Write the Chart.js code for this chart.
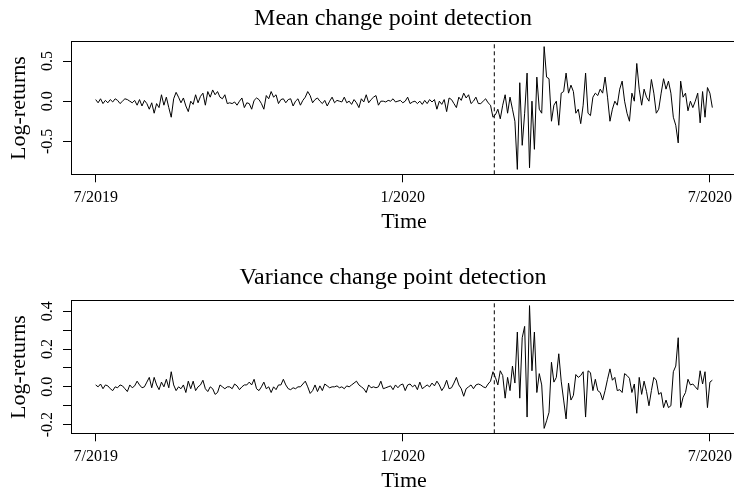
<!DOCTYPE html>
<html>
<head>
<meta charset="utf-8">
<script src="https://cdn.jsdelivr.net/npm/chart.js@4"></script>
<style>
  html, body { margin: 0; padding: 0; background: #fff; }
  body { width: 734px; height: 493px; overflow: hidden; position: relative; }
  canvas { position: absolute; left: 0; }
  #c-mean { top: 0; }
  #c-var { top: 259px; }
</style>
</head>
<body>
<canvas id="c-mean" width="786" height="259"></canvas>
<canvas id="c-var" width="786" height="259"></canvas>
<script>

// daily (trading day) series, 252 obs per year, starting 7/2019
let startYear = 2019.5;
let obsPerYear = 252;
let changePointTime = 2020.149;

let xTickValues = [2019.5, 2020.0, 2020.5];
let xTickLabels = ["7/2019", "1/2020", "7/2020"];

let meanTitle = "Mean change point detection";
let meanTicks = [-0.5, 0.0, 0.5];
let meanTickLabels = ["-0.5", "0.0", "0.5"];
let meanReturns = [
	0.02, -0.02, 0.03, -0.03, 0.01, -0.02, 0.02, -0.01, 0.03, 0.01,
	-0.03, 0.00, 0.03, 0.02, 0.00, -0.02, 0.01, -0.05, 0.02, -0.06,
	0.01, -0.03, -0.10, -0.02, -0.15, -0.03, -0.08, 0.08, -0.05, 0.05,
	-0.08, -0.20, 0.03, 0.11, 0.05, -0.02, 0.04, -0.06, -0.13, 0.00,
	-0.04, 0.08, -0.02, 0.06, 0.10, -0.05, 0.12, 0.05, 0.14, 0.08,
	0.12, 0.05, 0.03, 0.08, -0.03, -0.02, -0.03, -0.01, -0.05, 0.00,
	0.04, -0.08, -0.02, -0.03, -0.10, 0.01, 0.04, 0.02, -0.03, -0.10,
	0.07, 0.03, 0.12, 0.05, 0.08, -0.03,
	0.02, 0.03, -0.02, 0.02, 0.03, -0.06, 0.00, 0.03, -0.05, 0.01,
	0.05, 0.12, 0.07, -0.02, 0.02, 0.04, 0.00, -0.03, 0.01, -0.06,
	0.00, 0.05, -0.02, 0.01, 0.00, -0.01, 0.05, -0.02, 0.00, -0.04,
	0.02, -0.02, -0.08, 0.03, -0.01, 0.08, -0.02, 0.02, 0.05, 0.07,
	-0.05, 0.00, 0.00, -0.01, 0.01, 0.00, 0.03, -0.01, 0.00, 0.01,
	-0.02, 0.00, 0.05, -0.03, -0.01, 0.00, -0.03, 0.00, -0.04, 0.01,
	-0.03, 0.02, -0.01, 0.02, -0.10, 0.00, -0.04, 0.02, -0.13, 0.04,
	0.02, -0.03, -0.08, 0.05, 0.01, 0.10, 0.04, 0.08, -0.03, 0.00,
	0.05, -0.03,
	-0.03, 0.00, 0.03, -0.02, -0.05,
	-0.20, -0.17, -0.10, -0.22, -0.05, 0.08, -0.15, 0.05, -0.10, -0.25,
	-0.85, 0.23, -0.55, -0.15, 0.35, -0.83, 0.00, -0.60, 0.30, -0.10,
	-0.15, 0.68, 0.30, 0.28, -0.25, -0.05, 0.00, -0.30, 0.10, 0.12,
	0.35, 0.10, 0.20, 0.12, -0.15, -0.10, -0.28, -0.05, 0.35, -0.15,
	-0.18, 0.05, 0.10, 0.07, 0.15, 0.10, 0.30, 0.05, -0.25, -0.10,
	0.00, -0.05, 0.15, 0.25, 0.00, -0.15, -0.25, 0.10, 0.00, 0.47,
	0.15, -0.05, 0.15, 0.05, 0.00, 0.27, 0.10, -0.15, -0.10, 0.10,
	0.28, 0.15, 0.25, 0.10, -0.20, -0.30, -0.52, 0.25, 0.05, 0.10,
	-0.12, 0.00, -0.08, 0.00, 0.10, -0.27, 0.12, -0.20, 0.17, 0.10,
	-0.08
];

let varTitle = "Variance change point detection";
let varTicks = [-0.2, -0.1, 0.0, 0.1, 0.2, 0.3, 0.4];
let varTickLabels = ["-0.2", "", "0.0", "", "0.2", "", "0.4"];
let varReturns = [
	0.01, 0.00, 0.015, -0.01, 0.01, 0.005, -0.01, -0.02, 0.00, -0.005,
	0.01, 0.005, -0.01, -0.025, 0.01, -0.005, 0.005, 0.03, 0.01, -0.005,
	0.00, 0.025, 0.05, -0.005, 0.05, 0.01, -0.015, 0.025, 0.00, 0.04,
	-0.005, 0.08, 0.01, -0.02, 0.00, -0.01, 0.01, -0.03, 0.03, -0.01,
	0.03, -0.02, 0.00, 0.01, 0.035, -0.01, -0.025, 0.00, -0.01, -0.04,
	-0.03, 0.01, 0.00, -0.01, 0.00, 0.00, -0.01, 0.015, 0.005, -0.015,
	0.00, 0.01, 0.01, 0.025, 0.01, 0.04, -0.01, -0.02, 0.00, 0.025,
	-0.01, 0.00, -0.03, 0.00, -0.015, 0.01,
	0.01, 0.04, 0.01, -0.01, -0.015, -0.005, -0.01, 0.00, 0.00, 0.015,
	0.03, 0.00, -0.035, -0.02, 0.01, -0.025, 0.005, -0.02, 0.015, 0.005,
	-0.005, 0.00, 0.00, 0.005, -0.005, 0.00, -0.01, 0.005, 0.00, 0.01,
	0.02, 0.03, 0.01, 0.00, -0.01, -0.03, 0.01, -0.005, 0.00, -0.005,
	0.00, 0.03, -0.01, -0.005, 0.00, 0.005, -0.015, 0.01, -0.005, 0.01,
	0.015, -0.02, 0.01, 0.015, 0.00, 0.01, -0.015, 0.025, -0.01, 0.00,
	0.01, 0.00, 0.02, 0.005, 0.03, 0.01, -0.02, 0.00, 0.035, -0.01,
	-0.005, 0.02, 0.05, 0.01, -0.01, -0.05, -0.01, 0.00, 0.01, -0.01,
	0.01, 0.015,
	0.01, 0.00, -0.005, 0.015, 0.03,
	0.08, 0.05, 0.01, 0.085, 0.06, -0.06, 0.05, -0.02, 0.11, 0.02,
	0.29, -0.06, 0.26, 0.32, -0.16, 0.43, 0.085, 0.29, -0.03, 0.07,
	0.01, -0.22, -0.18, -0.135, 0.13, 0.025, 0.05, 0.175, 0.03, -0.07,
	-0.17, 0.02, -0.07, -0.045, 0.065, 0.05, 0.06, 0.08, -0.16, 0.085,
	0.075, -0.02, 0.04, -0.02, -0.03, -0.07, -0.02, 0.04, 0.095, 0.035,
	0.05, -0.02, -0.015, -0.03, 0.07, 0.06, 0.045, -0.03, 0.015, -0.14,
	0.05, -0.04, 0.03, -0.025, -0.10, -0.02, 0.05, 0.035, -0.04, -0.03,
	-0.11, -0.07, -0.11, -0.10, 0.08, 0.11, 0.26, -0.11, -0.055, -0.03,
	0.04, 0.01, 0.015, 0.00, -0.015, 0.085, 0.015, 0.08, -0.11, 0.025,
	0.035
];

let serif = "'Liberation Serif', 'Times New Roman', Times, serif";

// plot box like R's bty="o"
let boxPlugin = {
	id: "rbox",
	afterDatasetsDraw(chart) {
		let a = chart.chartArea;
		let ctx = chart.ctx;
		ctx.save();
		ctx.strokeStyle = "#000";
		ctx.lineWidth = 1;
		let l = Math.floor(a.left) + 0.5;
		let t = Math.floor(a.top) + 0.5;
		let b = Math.floor(a.bottom) + 0.5;
		ctx.strokeRect(l, t, a.right - l, b - t);
		ctx.restore();
	}
};

// R style 4% extension of the data range
function paddedRange(lo, hi) {
	let d = (hi - lo) * 0.04;
	return [lo - d, hi + d];
}

function makePanel(canvasId, titleText, values, yTicks, yTickLabels) {

	let points = values.map(function(v, i) {
		return { x: startYear + i / obsPerYear, y: v };
	});

	let xr = paddedRange(points[0].x, points[points.length - 1].x);
	let yr = paddedRange(Math.min.apply(null, values), Math.max.apply(null, values));

	return new Chart(document.getElementById(canvasId), {
		type: "line",
		data: {
			datasets: [{
				data: points,
				borderColor: "#000",
				borderWidth: 1,
				pointRadius: 0,
				tension: 0,
				fill: false
			}, {
				data: [{ x: changePointTime, y: yr[0] }, { x: changePointTime, y: yr[1] }],
				borderColor: "#000",
				borderWidth: 1,
				borderDash: [4, 3],
				pointRadius: 0,
				fill: false
			}]
		},
		options: {
			responsive: false,
			animation: false,
			devicePixelRatio: 1,
			events: [],
			layout: { padding: 0 },
			plugins: {
				legend: { display: false },
				tooltip: { enabled: false },
				title: {
					display: true,
					text: titleText,
					color: "#000",
					font: { family: serif, size: 24, weight: "normal", lineHeight: 1 },
					padding: { top: 6.7, bottom: 11 }
				}
			},
			scales: {
				x: {
					type: "linear",
					min: xr[0],
					max: xr[1],
					afterBuildTicks: function(s) {
						s.ticks = xTickValues.map(function(v) { return { value: v }; });
					},
					afterFit: function(s) { s.height = 84.7; },
					ticks: {
						autoSkip: false,
						minRotation: 0,
						maxRotation: 0,
						padding: 7.6,
						color: "#000",
						font: { family: serif, size: 16, lineHeight: 1 },
						callback: function(v, i) { return xTickLabels[i]; }
					},
					grid: { display: true, drawOnChartArea: false, drawTicks: true, tickLength: 8, color: "#000" },
					border: { display: false },
					title: {
						display: true,
						text: "Time",
						color: "#000",
						font: { family: serif, size: 22, lineHeight: 1 },
						padding: { top: 0, bottom: 25.4 }
					}
				},
				y: {
					type: "linear",
					position: "left",
					min: yr[0],
					max: yr[1],
					afterBuildTicks: function(s) {
						s.ticks = yTicks.map(function(v) { return { value: v }; });
					},
					afterFit: function(s) { s.width = 71; },
					ticks: {
						autoSkip: false,
						minRotation: 90,
						maxRotation: 90,
						crossAlign: "center",
						padding: 2.5,
						color: "#000",
						font: { family: serif, size: 16, lineHeight: 1 },
						callback: function(v, i) { return yTickLabels[i]; }
					},
					grid: { display: true, drawOnChartArea: false, drawTicks: true, tickLength: 8, color: "#000" },
					border: { display: false },
					title: {
						display: true,
						text: "Log-returns",
						color: "#000",
						font: { family: serif, size: 22, lineHeight: 1 },
						padding: { top: 8, bottom: 0 }
					}
				},
				// empty right margin so the title centres like the R figure
				yR: {
					position: "right",
					display: true,
					grid: { display: false },
					ticks: { display: false },
					border: { display: false },
					afterFit: function(s) { s.width = 49; }
				}
			}
		},
		plugins: [boxPlugin]
	});
}

makePanel("c-mean", meanTitle, meanReturns, meanTicks, meanTickLabels);
makePanel("c-var", varTitle, varReturns, varTicks, varTickLabels);

</script>
</body>
</html>
